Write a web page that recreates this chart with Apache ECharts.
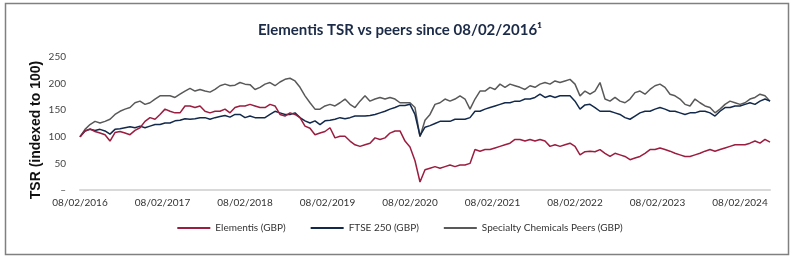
<!DOCTYPE html>
<html>
<head>
<meta charset="utf-8">
<script src="https://cdn.jsdelivr.net/npm/echarts@6/dist/echarts.min.js"></script>
<style>
  html, body { margin: 0; padding: 0; background: #fff; }
  #main { width: 800px; height: 263px; }
</style>
</head>
<body>
<div id="main"></div>
<script>
// TSR indexed to 100 at 08/02/2016, one reading roughly every 3 weeks
var stepYears = 1 / 16.5;
var startYear = 2016;

var elementis = [
  100,111,115,110,107,104,92,108,110,107,104,112,117,129,136,133,142,152,148,145,145,158,158,155,158,148,145,148,148,152,145,155,158,158,161,
  158,155,155,161,158,142,139,145,142,136,120,116,104,107,110,117,98,101,101,92,85,82,85,88,98,95,98,107,111,111,92,81,55,15,
  38,41,44,41,44,47,44,47,47,50,76,73,76,76,79,82,85,88,95,95,92,95,92,95,92,82,85,82,85,88,82,66,72,73,
  72,76,69,63,69,66,63,57,60,63,69,76,76,79,76,73,69,66,63,63,66,69,73,76,73,76,79,82,85,85,85,88,92,88,95,90
];

var ftse250 = [
  100,111,114,112,114,111,105,114,115,117,119,117,120,117,120,123,123,126,126,130,131,134,133,134,136,136,133,136,138,140,137,142,142,136,139,
  136,136,136,142,148,145,142,142,145,136,130,126,130,123,130,131,133,136,134,136,139,139,139,140,142,145,148,152,155,159,159,161,142,102,
  118,121,125,129,129,129,133,133,133,136,148,148,152,155,158,161,164,164,167,167,171,171,174,180,174,177,174,177,177,177,167,152,160,161,
  155,148,148,148,145,142,136,133,139,145,148,148,152,155,152,148,148,145,142,145,145,148,148,145,139,148,155,155,158,158,161,164,161,167,171,167
];

var peers = [
  100,114,123,129,126,129,133,142,148,152,155,164,167,161,164,171,177,177,177,174,180,186,191,186,189,186,184,189,196,199,196,197,202,199,198,
  189,193,199,202,196,203,208,210,205,193,177,164,152,152,158,161,158,164,171,161,155,167,177,167,171,174,171,174,171,164,164,164,155,100,
  131,142,161,164,171,167,171,177,171,152,171,186,186,193,189,199,193,199,196,193,189,196,193,199,202,199,205,202,205,208,199,177,186,180,
  186,202,171,167,174,167,164,171,183,186,180,189,196,199,193,180,177,171,161,158,171,164,158,155,145,152,161,167,164,161,164,171,174,180,177,167
];

var yTicks = [0, 50, 100, 150, 200, 250];
var seriesNames = ['Elementis (GBP)', 'FTSE 250 (GBP)', 'Specialty Chemicals Peers (GBP)'];

function toPoints(arr) {
  return arr.map(function (v, i) { return [i * stepYears, v]; });
}

var myChart = echarts.init(document.getElementById('main'));

var option = {
  backgroundColor: '#fff',
  animation: false,
  title: {
    text: 'Elementis TSR vs peers since 08/02/2016\u00b9',
    left: 'center',
    top: 18,
    textStyle: { fontFamily: 'Lato', fontWeight: 'bold', fontSize: 15, color: '#1b2a47' }
  },
  graphic: [
    {
      type: 'rect',
      shape: { x: 5.5, y: 3.5, width: 783, height: 251 },
      style: { fill: 'none', stroke: '#808080', lineWidth: 1.5 },
      silent: true
    },
    {
      type: 'text',
      x: 36, y: 130,
      rotation: Math.PI / 2,
      style: {
        text: 'TSR (indexed to 100)',
        font: 'bold 14px "Liberation Sans"',
        fill: '#111',
        align: 'center',
        verticalAlign: 'middle'
      }
    }
  ],
  legend: {
    data: seriesNames,
    bottom: 25,
    left: 'center',
    icon: 'rect',
    itemWidth: 33,
    itemHeight: 2,
    itemGap: 25,
    textStyle: { fontFamily: 'Lato', fontSize: 10, color: '#333' }
  },
  grid: { left: 80, right: 30, top: 57, bottom: 73 },
  xAxis: {
    type: 'value',
    min: 0,
    max: (peers.length - 1) * stepYears,
    interval: 1,
    axisLine: { lineStyle: { color: '#d9d9d9', width: 2 } },
    axisTick: { show: false },
    splitLine: { show: false },
    axisLabel: {
      margin: 8,
      showMaxLabel: false,
      fontFamily: 'Lato',
      fontSize: 10,
      color: '#333',
      formatter: function (v) {
        return Math.abs(v - Math.round(v)) < 1e-6 ? '08/02/' + (startYear + Math.round(v)) : '';
      }
    }
  },
  yAxis: {
    type: 'value',
    min: yTicks[0],
    max: yTicks[yTicks.length - 1],
    interval: 50,
    axisLine: { show: false },
    axisTick: { show: false },
    splitLine: { show: false },
    axisLabel: {
      margin: 14,
      fontFamily: 'Lato',
      fontSize: 10,
      color: '#444',
      formatter: function (v) { return v === 0 ? '\u2013' : v; }
    }
  },
  series: [
    {
      name: seriesNames[2],
      type: 'line',
      data: toPoints(peers),
      symbol: 'none',
      lineStyle: { color: '#595959', width: 1.5 },
      itemStyle: { color: '#595959' }
    },
    {
      name: seriesNames[1],
      type: 'line',
      data: toPoints(ftse250),
      symbol: 'none',
      lineStyle: { color: '#13294b', width: 1.5 },
      itemStyle: { color: '#13294b' }
    },
    {
      name: seriesNames[0],
      type: 'line',
      data: toPoints(elementis),
      symbol: 'none',
      lineStyle: { color: '#9b1d3f', width: 1.5 },
      itemStyle: { color: '#9b1d3f' }
    }
  ]
};

myChart.setOption(option);
</script>
</body>
</html>
